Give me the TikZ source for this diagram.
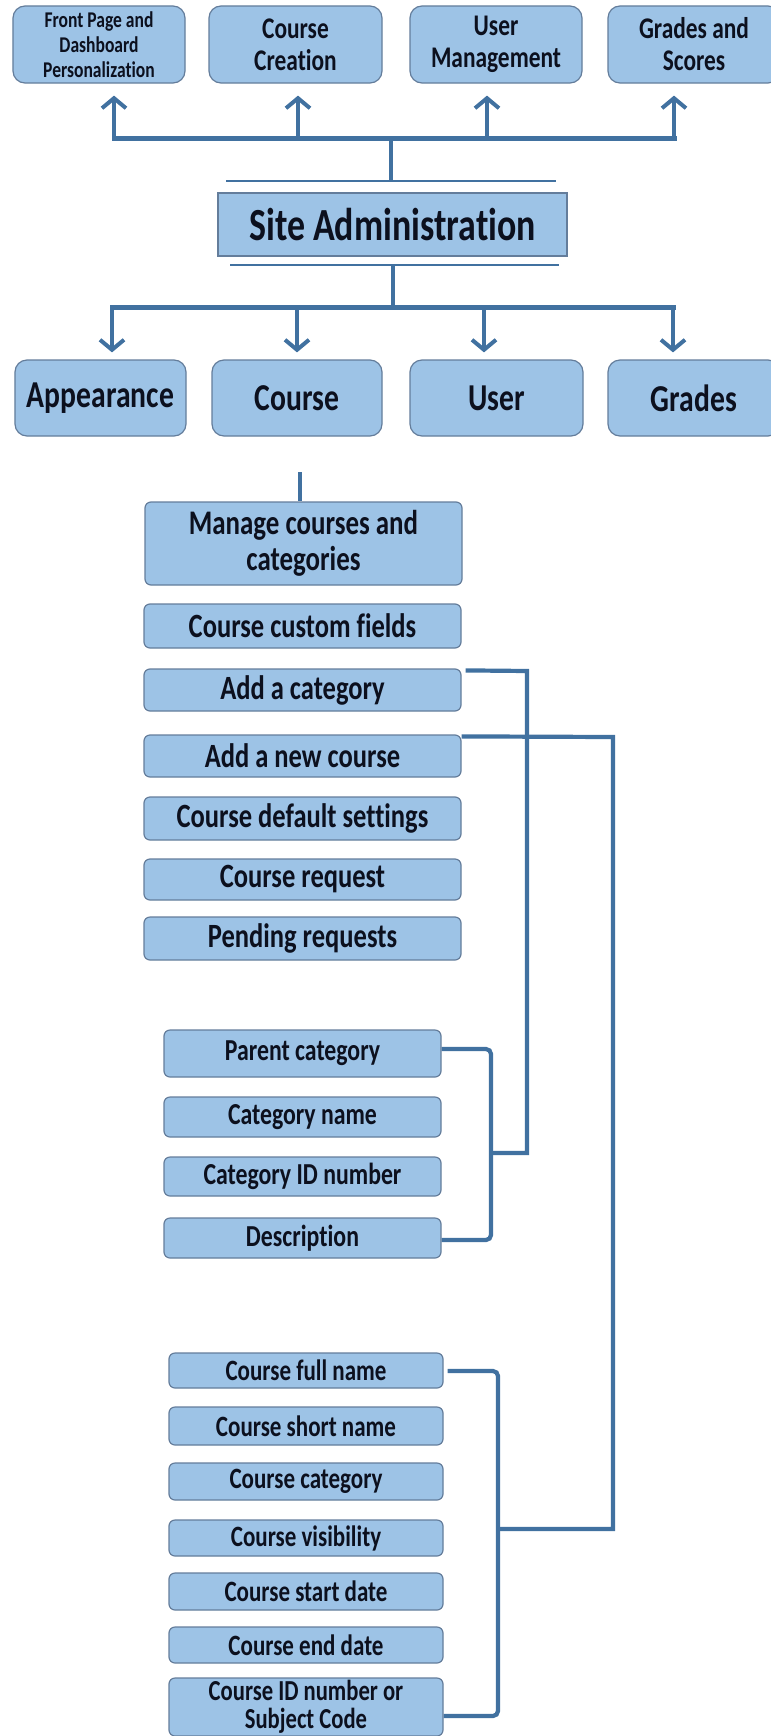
\documentclass[tikz,border=0pt]{standalone}
\usepackage{fontspec}
\newfontfamily\boxfont{Carlito}[FakeStretch=0.78, Ligatures=NoCommon]
\usetikzlibrary{arrows.meta}
\definecolor{boxfill}{RGB}{157,195,230}
\definecolor{boxborder}{RGB}{100,125,155}
\definecolor{linecol}{RGB}{65,113,160}
\definecolor{txt}{RGB}{12,16,30}
\newcommand{\fs}[2]{\fontsize{#1bp}{#2bp}\selectfont}
% #1 style, #2 name, #3 x1, #4 y1, #5 x2, #6 y2, #7 text
\newcommand{\bx}[7]{%
  \pgfmathsetmacro\myboxw{#5-#3}%
  \pgfmathsetmacro\myboxh{#6-#4}%
  \pgfmathsetmacro\myboxcx{(#3+#5)/2}%
  \pgfmathsetmacro\myboxcy{(#4+#6)/2}%
  \node[#1, minimum width=\myboxw bp, minimum height=\myboxh bp] (#2) at (\myboxcx,\myboxcy) {#7};}
\tikzset{
  box/.style={draw=boxborder, line width=1.2bp, fill=boxfill, inner sep=0pt, align=center, text=txt},
  rbig/.style={box, rounded corners=12bp},
  rsmall/.style={box, rounded corners=6bp},
  conn/.style={draw=linecol, line width=4.2bp},
  barline/.style={draw=linecol, line width=5bp, line cap=rect},
  thinline/.style={draw=linecol, line width=2.5bp},
  arr/.style={conn, -{Straight Barb[length=10bp,width=24bp,line width=4bp]}},
  ffp/.style={font=\boxfont\bfseries\fs{22.5}{25}},
  ftop/.style={font=\boxfont\bfseries\fs{30}{32}},
  fsa/.style={font=\boxfont\bfseries\fs{46}{50}},
  frow/.style={font=\boxfont\bfseries\fs{38}{40}},
  fmc/.style={font=\boxfont\bfseries\fs{34.5}{36}},
  flist/.style={font=\boxfont\bfseries\fs{34}{37}},
  fcat/.style={font=\boxfont\bfseries\fs{30.5}{32}},
  fcrs/.style={font=\boxfont\bfseries\fs{29.5}{31}},
  fid/.style={font=\boxfont\bfseries\fs{29}{28.5}}
}
\begin{document}
\begin{tikzpicture}[x=1bp,y=-1bp]
\useasboundingbox (0,0) rectangle (771,1736);
% top row
\bx{rbig, ffp}{fp}{13}{6}{185}{83}{Front Page and\\Dashboard\\Personalization}
\bx{rbig, ftop}{cc}{209}{6}{382}{83}{Course\\Creation}
\bx{rbig, ftop}{um}{410}{6}{582}{83}{User\\Management}
\bx{rbig, ftop}{gs}{608}{6}{780}{83}{Grades and\\Scores}
% site administration
\bx{box, fsa}{sa}{218}{193}{567}{256}{Site Administration}
\coordinate (ul1) at (226,181); \coordinate (ul2) at (556,181);
\coordinate (ll1) at (230,265); \coordinate (ll2) at (559,265);
\draw[thinline] (ul1) -- (ul2);
\draw[thinline] (ll1) -- (ll2);
% upper bar
\coordinate (tL) at (114,138); \coordinate (tR) at (674,138); \coordinate (tM) at (391,138);
\coordinate (t2) at (298,138); \coordinate (t3) at (487,138);
\draw[barline] (tL) -- (tR);
\draw[conn] (tM) -- (tM |- ul1);
\draw[arr, shorten >=12bp] (tL) -- (tL |- fp.south);
\draw[arr, shorten >=12bp] (t2) -- (t2 |- cc.south);
\draw[arr, shorten >=12bp] (t3) -- (t3 |- um.south);
\draw[arr, shorten >=12bp] (tR) -- (tR |- gs.south);
% second row
\bx{rbig, frow}{ap}{15}{360}{186}{436}{Appearance}
\bx{rbig, frow}{co}{212}{360}{382}{436}{Course}
\bx{rbig, frow}{us}{410}{360}{583}{436}{User}
\bx{rbig, frow}{gr}{608}{360}{780}{436}{Grades}
% lower bar
\coordinate (bL) at (112,307); \coordinate (bR) at (673,307); \coordinate (bM) at (393,307);
\coordinate (b2) at (297,307); \coordinate (b3) at (484,307);
\draw[barline] (bL) -- (bR);
\draw[conn] (bM |- ll1) -- (bM);
\draw[arr, shorten >=7bp] (bL) -- (bL |- ap.north);
\draw[arr, shorten >=7bp] (b2) -- (b2 |- co.north);
\draw[arr, shorten >=7bp] (b3) -- (b3 |- us.north);
\draw[arr, shorten >=7bp] (bR) -- (bR |- gr.north);
% course list
\bx{rsmall, fmc}{mc}{145}{502}{462}{585}{Manage courses and\\categories}
\coordinate (cs) at (300,472);
\draw[conn] (cs) -- (cs |- mc.north);
\bx{rsmall, flist}{cf}{144}{604}{461}{648}{Course custom fields}
\bx{rsmall, flist}{ac}{144}{669}{461}{711}{Add a category}
\bx{rsmall, flist}{an}{144}{735}{461}{777}{Add a new course}
\bx{rsmall, flist}{ds}{144}{797}{461}{840}{Course default settings}
\bx{rsmall, flist}{cr}{144}{859}{461}{900}{Course request}
\bx{rsmall, flist}{pr}{144}{917}{461}{960}{Pending requests}
% category fields
\bx{rsmall, fcat}{pc}{164}{1030}{441}{1077}{Parent category}
\bx{rsmall, fcat}{cn}{164}{1097}{441}{1137}{Category name}
\bx{rsmall, fcat}{ci}{164}{1157}{441}{1196}{Category ID number}
\bx{rsmall, fcat}{de}{164}{1218}{441}{1258}{Description}
% course fields
\bx{rsmall, fcrs}{fn}{169}{1353}{443}{1388}{Course full name}
\bx{rsmall, fcrs}{sn}{169}{1407}{443}{1445}{Course short name}
\bx{rsmall, fcrs}{cg}{169}{1463}{443}{1500}{Course category}
\bx{rsmall, fcrs}{cv}{169}{1520}{443}{1556}{Course visibility}
\bx{rsmall, fcrs}{sd}{169}{1573}{443}{1610}{Course start date}
\bx{rsmall, fcrs}{ed}{169}{1627}{443}{1663}{Course end date}
\bx{rsmall, fid}{id}{169}{1678}{443}{1736}{Course ID number or\\Subject Code}
% connectors
\coordinate (k1) at (527,671); \coordinate (k2) at (527,1153); \coordinate (kb) at (491,1153);
\draw[conn] (ac.north east) ++(4,2) -- (k1) -- (k2) -- (kb);
\coordinate (m1) at (613,737); \coordinate (m2) at (613,1529); \coordinate (mb) at (498,1529);
\draw[conn] (an.north east) ++(0,2) -- (m1) -- (m2) -- (mb);
\draw[conn, rounded corners=5bp] (pc.east |- 0,1049) -- (491,1049) -- (491,1240) -- (de.east |- 0,1240);
\draw[conn, rounded corners=5bp] (fn.east |- 0,1371) ++(4,0) -- (498,1371) -- (498,1716) -- (id.east |- 0,1716);
\end{tikzpicture}
\end{document}
